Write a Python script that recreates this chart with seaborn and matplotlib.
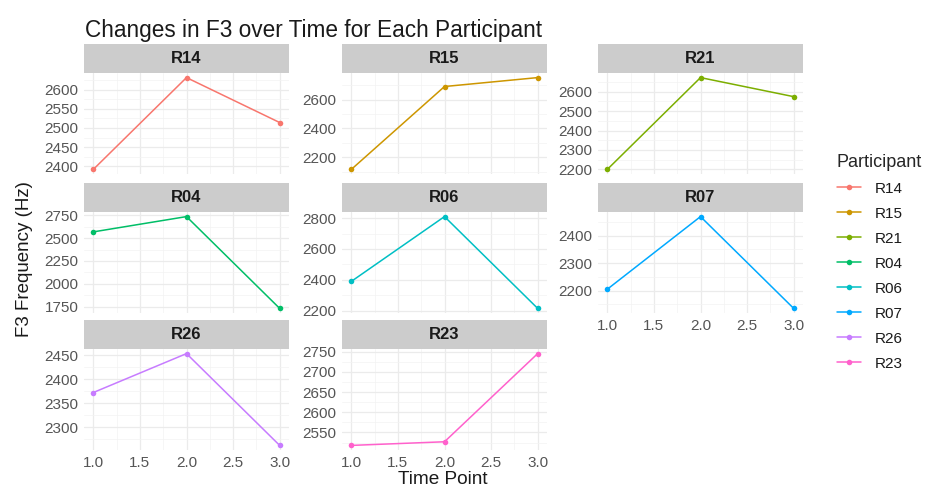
import pandas as pd
import seaborn as sns
import matplotlib.pyplot as plt
from matplotlib.lines import Line2D
from matplotlib.patches import Rectangle
from matplotlib.ticker import AutoMinorLocator, FixedLocator

# data
participants = ['R14', 'R15', 'R21', 'R04', 'R06', 'R07', 'R26', 'R23']
time_points = [1, 2, 3]
r14 = [2392, 2631, 2514]
r15 = [2115, 2690, 2752]
r21 = [2200, 2672, 2574]
r04 = [2568, 2735, 1732]
r06 = [2390, 2810, 2215]
r07 = [2205, 2470, 2135]
r26 = [2372, 2453, 2262]
r23 = [2518, 2527, 2745]
series = [r14, r15, r21, r04, r06, r07, r26, r23]

y_ticks = {
    'R14': [2400, 2450, 2500, 2550, 2600],
    'R15': [2200, 2400, 2600],
    'R21': [2200, 2300, 2400, 2500, 2600],
    'R04': [1750, 2000, 2250, 2500, 2750],
    'R06': [2200, 2400, 2600, 2800],
    'R07': [2200, 2300, 2400],
    'R26': [2300, 2350, 2400, 2450],
    'R23': [2550, 2600, 2650, 2700, 2750],
}
x_ticks = [1.0, 1.5, 2.0, 2.5, 3.0]

# ggplot default hue palette for 8 levels
colors = ['#F8766D', '#CD9600', '#7CAE00', '#00BE67',
          '#00BFC4', '#00A9FF', '#C77CFF', '#FF61CC']
palette = dict(zip(participants, colors))

rows = []
for p, vals in zip(participants, series):
    for t, v in zip(time_points, vals):
        rows.append({'Participant': p, 'Time Point': t, 'F3': v})
df = pd.DataFrame(rows)

sns.set_style('white')
plt.rcParams['font.family'] = ['Liberation Sans', 'DejaVu Sans']

W, H = 925, 488
fig = plt.figure(figsize=(W / 100, H / 100), dpi=100)

col_left = [84, 342, 598]
row_top = [73, 212, 349]
pw, ph, strip_h = 205, 101, 29

for i, p in enumerate(participants):
    r, c = divmod(i, 3)
    l, t = col_left[c], row_top[r]
    ax = fig.add_axes([l / W, 1 - (t + ph) / H, pw / W, ph / H])
    sub = df[df['Participant'] == p]
    sns.lineplot(data=sub, x='Time Point', y='F3', hue='Participant',
                 palette=palette, marker='o', markersize=4, markeredgewidth=0,
                 linewidth=1.1, legend=False, ax=ax)
    vals = sub['F3']
    pad = (vals.max() - vals.min()) * 0.05
    ax.set_ylim(vals.min() - pad, vals.max() + pad)
    ax.set_xlim(0.9, 3.1)
    ax.yaxis.set_major_locator(FixedLocator(y_ticks[p]))
    ax.xaxis.set_major_locator(FixedLocator(x_ticks))
    ax.xaxis.set_minor_locator(AutoMinorLocator(2))
    ax.yaxis.set_minor_locator(AutoMinorLocator(2))
    ax.grid(True, which='major', color='#EBEBEB', linewidth=0.9)
    ax.grid(True, which='minor', color='#F3F3F3', linewidth=0.5)
    ax.set_axisbelow(True)
    for s in ax.spines.values():
        s.set_visible(False)
    ax.tick_params(axis='both', which='both', length=0, labelsize=11,
                   labelcolor='#555555', pad=4)
    ax.set_xlabel('')
    ax.set_ylabel('')
    bottom = (r == 2) or (r == 1 and c == 2)
    if not bottom:
        ax.set_xticklabels([])
    else:
        ax.set_xticklabels([f'{v:.1f}' for v in x_ticks])
    ax.add_patch(Rectangle((0, 1), 1, strip_h / ph, transform=ax.transAxes,
                           facecolor='#CCCCCC', edgecolor='none', clip_on=False))
    ax.text(0.5, 1 + strip_h / ph / 2, p, transform=ax.transAxes,
            ha='center', va='center', fontsize=12, fontweight='bold',
            color='#1A1A1A')

fig.text(85 / W, 1 - 31 / H, 'Changes in F3 over Time for Each Participant',
         fontsize=16.3, color='#1A1A1A', va='center', ha='left')
fig.text(25 / W, 1 - 259 / H, 'F3 Frequency (Hz)', rotation=90,
         fontsize=13.5, color='#1A1A1A', va='center', ha='center')
fig.text(443 / W, 1 - 479 / H, 'Time Point', fontsize=13.7,
         color='#1A1A1A', va='center', ha='center')

handles = [Line2D([0], [0], color=c, marker='o', markersize=4,
                  markeredgewidth=0, linewidth=1.1) for c in colors]
leg = fig.legend(handles, participants, title='Participant',
                 loc='upper left', bbox_to_anchor=(823 / W, 1 - 140 / H),
                 frameon=False, fontsize=11, title_fontsize=13,
                 labelspacing=0.72, handlelength=1.6, handletextpad=0.9)
leg._legend_box.align = 'left'
for txt in leg.get_texts():
    txt.set_color('#1A1A1A')

fig.savefig('out.png', dpi=100)
